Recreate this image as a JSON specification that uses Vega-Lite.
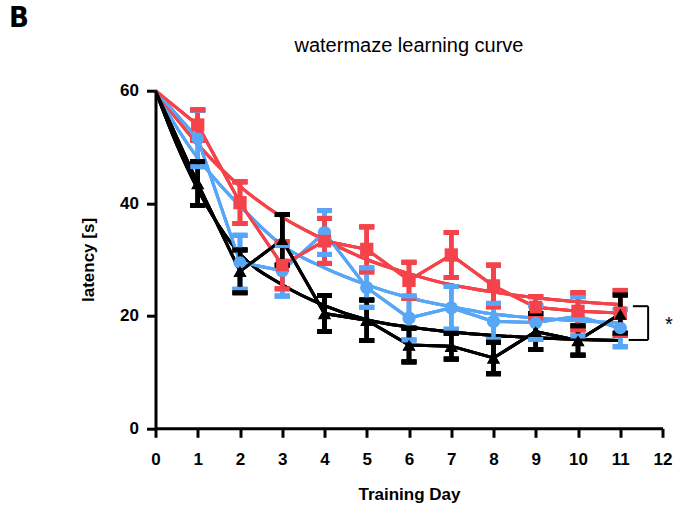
{
  "$schema": "https://vega.github.io/schema/vega-lite/v6.json",
  "width": 507,
  "height": 337.6,
  "autosize": {"type": "none"},
  "padding": {"left": 155.5, "top": 90.7, "right": 12.5, "bottom": 81.7},
  "background": "white",
  "config": {
    "view": {"stroke": null},
    "axis": {"grid": false, "domainColor": "black", "domainWidth": 3, "tickColor": "black", "tickWidth": 3, "tickSize": 9, "labelFont": "Liberation Sans", "labelFontWeight": "bold", "labelFontSize": 17, "labelColor": "black", "titleFont": "Liberation Sans", "titleFontWeight": "bold", "titleFontSize": 17, "titleColor": "black"},
    "axisX": {"labelPadding": 14, "titlePadding": 19},
    "axisY": {"labelPadding": 8, "titlePadding": 22}
  },
  "datasets": {
    "means": [
      {"group": "group 1", "day": 0, "mean": 60, "lo": null, "hi": null},
      {"group": "group 1", "day": 1, "mean": 51.5, "lo": 46.5, "hi": 56.5},
      {"group": "group 1", "day": 2, "mean": 29.5, "lo": 24.7, "hi": 34.3},
      {"group": "group 1", "day": 3, "mean": 28, "lo": 23.5, "hi": 32.5},
      {"group": "group 1", "day": 4, "mean": 34.8, "lo": 30.9, "hi": 38.7},
      {"group": "group 1", "day": 5, "mean": 25, "lo": 21.5, "hi": 28.5},
      {"group": "group 1", "day": 6, "mean": 19.6, "lo": 15.7, "hi": 23.5},
      {"group": "group 1", "day": 7, "mean": 21.4, "lo": 17.6, "hi": 25.2},
      {"group": "group 1", "day": 8, "mean": 19, "lo": 15.8, "hi": 22.2},
      {"group": "group 1", "day": 9, "mean": 18.8, "lo": 15.8, "hi": 21.8},
      {"group": "group 1", "day": 10, "mean": 19.9, "lo": 16.4, "hi": 23.4},
      {"group": "group 1", "day": 11, "mean": 17.8, "lo": 14.5, "hi": 21.1},
      {"group": "group 2", "day": 0, "mean": 60, "lo": null, "hi": null},
      {"group": "group 2", "day": 1, "mean": 53.9, "lo": 51.2, "hi": 56.6},
      {"group": "group 2", "day": 2, "mean": 40.1, "lo": 36.4, "hi": 43.8},
      {"group": "group 2", "day": 3, "mean": 29, "lo": 24.8, "hi": 33.2},
      {"group": "group 2", "day": 4, "mean": 33.3, "lo": 29.3, "hi": 37.3},
      {"group": "group 2", "day": 5, "mean": 31.8, "lo": 27.8, "hi": 35.8},
      {"group": "group 2", "day": 6, "mean": 26.3, "lo": 23.1, "hi": 29.5},
      {"group": "group 2", "day": 7, "mean": 30.8, "lo": 26.8, "hi": 34.8},
      {"group": "group 2", "day": 8, "mean": 25.3, "lo": 21.6, "hi": 29},
      {"group": "group 2", "day": 9, "mean": 21.5, "lo": 19.6, "hi": 23.4},
      {"group": "group 2", "day": 10, "mean": 20.8, "lo": 17.5, "hi": 24.1},
      {"group": "group 2", "day": 11, "mean": 20.5, "lo": 16.5, "hi": 24.5},
      {"group": "group 3", "day": 0, "mean": 60, "lo": null, "hi": null},
      {"group": "group 3", "day": 1, "mean": 43.5, "lo": 39.6, "hi": 47.4},
      {"group": "group 3", "day": 2, "mean": 27.9, "lo": 24.1, "hi": 31.7},
      {"group": "group 3", "day": 3, "mean": 33.5, "lo": 29, "hi": 38},
      {"group": "group 3", "day": 4, "mean": 20.4, "lo": 17.2, "hi": 23.6},
      {"group": "group 3", "day": 5, "mean": 19.2, "lo": 15.6, "hi": 22.8},
      {"group": "group 3", "day": 6, "mean": 14.8, "lo": 11.8, "hi": 17.8},
      {"group": "group 3", "day": 7, "mean": 14.6, "lo": 12.3, "hi": 16.9},
      {"group": "group 3", "day": 8, "mean": 12.5, "lo": 9.7, "hi": 15.3},
      {"group": "group 3", "day": 9, "mean": 17.2, "lo": 14, "hi": 20.4},
      {"group": "group 3", "day": 10, "mean": 15.6, "lo": 13, "hi": 18.2},
      {"group": "group 3", "day": 11, "mean": 20.3, "lo": 16.9, "hi": 23.7}
    ],
    "fits": [
      {"group": "group 1", "day": 0, "fit": 60},
      {"group": "group 1", "day": 0.5, "fit": 53.5},
      {"group": "group 1", "day": 1, "fit": 48},
      {"group": "group 1", "day": 1.5, "fit": 43.5},
      {"group": "group 1", "day": 2, "fit": 39.5},
      {"group": "group 1", "day": 3, "fit": 32.5},
      {"group": "group 1", "day": 4, "fit": 28.5},
      {"group": "group 1", "day": 5, "fit": 25.5},
      {"group": "group 1", "day": 6, "fit": 23.2},
      {"group": "group 1", "day": 7, "fit": 21.6},
      {"group": "group 1", "day": 8, "fit": 20.3},
      {"group": "group 1", "day": 9, "fit": 19.6},
      {"group": "group 1", "day": 10, "fit": 19.1},
      {"group": "group 1", "day": 11, "fit": 18.7},
      {"group": "group 2", "day": 0, "fit": 60},
      {"group": "group 2", "day": 0.5, "fit": 55},
      {"group": "group 2", "day": 1, "fit": 50.5},
      {"group": "group 2", "day": 1.5, "fit": 46.5},
      {"group": "group 2", "day": 2, "fit": 43},
      {"group": "group 2", "day": 3, "fit": 37.5},
      {"group": "group 2", "day": 4, "fit": 33.5},
      {"group": "group 2", "day": 5, "fit": 30},
      {"group": "group 2", "day": 6, "fit": 27.5},
      {"group": "group 2", "day": 7, "fit": 25.5},
      {"group": "group 2", "day": 8, "fit": 24.2},
      {"group": "group 2", "day": 9, "fit": 23.2},
      {"group": "group 2", "day": 10, "fit": 22.5},
      {"group": "group 2", "day": 11, "fit": 22},
      {"group": "group 3", "day": 0, "fit": 60},
      {"group": "group 3", "day": 0.5, "fit": 50.5},
      {"group": "group 3", "day": 1, "fit": 42.5},
      {"group": "group 3", "day": 1.5, "fit": 36},
      {"group": "group 3", "day": 2, "fit": 31},
      {"group": "group 3", "day": 3, "fit": 25.5},
      {"group": "group 3", "day": 4, "fit": 21.8},
      {"group": "group 3", "day": 5, "fit": 19.3},
      {"group": "group 3", "day": 6, "fit": 18},
      {"group": "group 3", "day": 7, "fit": 17.1},
      {"group": "group 3", "day": 8, "fit": 16.5},
      {"group": "group 3", "day": 9, "fit": 16.1},
      {"group": "group 3", "day": 10, "fit": 15.8},
      {"group": "group 3", "day": 11, "fit": 15.6}
    ],
    "bracket": [
      {"x1": 11.3, "x2": 11.66, "y1": 21.7, "y2": 21.7},
      {"x1": 11.66, "x2": 11.66, "y1": 21.7, "y2": 15.7},
      {"x1": 11.2, "x2": 11.66, "y1": 15.7, "y2": 15.7}
    ],
    "notes": [
      {"note": "*"},
      {"note": "B"},
      {"note": "watermaze learning curve"}
    ]
  },
  "layer": [
    {
      "transform": [{"filter": "datum.group === 'group 1'"}],
      "encoding": {
        "x": {"field": "day", "type": "quantitative", "title": "Training Day", "scale": {"domain": [0, 12], "nice": false, "zero": false}, "axis": {"values": [0, 1, 2, 3, 4, 5, 6, 7, 8, 9, 10, 11, 12], "format": "d", "labelOverlap": false, "labelFlush": false}},
        "color": {"field": "group", "type": "nominal", "scale": {"domain": ["group 1", "group 2", "group 3"], "range": ["#58A6F6", "#F4434A", "#000000"]}, "legend": null}
      },
      "layer": [
        {"data": {"name": "fits"}, "mark": {"type": "line", "strokeWidth": 3, "interpolate": "monotone"}, "encoding": {"y": {"field": "fit", "type": "quantitative", "title": "latency [s]", "scale": {"domain": [0, 60], "nice": false}, "axis": {"values": [0, 20, 40, 60]}}}},
        {"data": {"name": "means"}, "mark": {"type": "line", "strokeWidth": 3}, "encoding": {"y": {"field": "mean", "type": "quantitative", "title": "latency [s]"}}},
        {"data": {"name": "means"}, "transform": [{"filter": "datum.lo != null"}], "mark": {"type": "rule", "strokeWidth": 4.5}, "encoding": {"y": {"field": "lo", "type": "quantitative", "title": "latency [s]"}, "y2": {"field": "hi"}}},
        {"data": {"name": "means"}, "transform": [{"filter": "datum.lo != null"}], "mark": {"type": "tick", "orient": "horizontal", "size": 15, "thickness": 5, "opacity": 1}, "encoding": {"y": {"field": "lo", "type": "quantitative", "title": "latency [s]"}}},
        {"data": {"name": "means"}, "transform": [{"filter": "datum.lo != null"}], "mark": {"type": "tick", "orient": "horizontal", "size": 15, "thickness": 5, "opacity": 1}, "encoding": {"y": {"field": "hi", "type": "quantitative", "title": "latency [s]"}}},
        {"data": {"name": "means"}, "transform": [{"filter": "datum.day > 0"}], "mark": {"type": "point", "filled": true, "opacity": 1, "size": 135, "strokeWidth": 0}, "encoding": {"y": {"field": "mean", "type": "quantitative", "title": "latency [s]"}, "shape": {"field": "group", "type": "nominal", "scale": {"domain": ["group 1", "group 2", "group 3"], "range": ["circle", "square", "triangle-up"]}, "legend": null}}}
      ]
    },
    {
      "transform": [{"filter": "datum.group === 'group 2'"}],
      "encoding": {
        "x": {"field": "day", "type": "quantitative", "title": "Training Day"},
        "color": {"field": "group", "type": "nominal", "legend": null}
      },
      "layer": [
        {"data": {"name": "fits"}, "mark": {"type": "line", "strokeWidth": 3, "interpolate": "monotone"}, "encoding": {"y": {"field": "fit", "type": "quantitative", "title": "latency [s]"}}},
        {"data": {"name": "means"}, "mark": {"type": "line", "strokeWidth": 3}, "encoding": {"y": {"field": "mean", "type": "quantitative", "title": "latency [s]"}}},
        {"data": {"name": "means"}, "transform": [{"filter": "datum.lo != null"}], "mark": {"type": "rule", "strokeWidth": 4.5}, "encoding": {"y": {"field": "lo", "type": "quantitative", "title": "latency [s]"}, "y2": {"field": "hi"}}},
        {"data": {"name": "means"}, "transform": [{"filter": "datum.lo != null"}], "mark": {"type": "tick", "orient": "horizontal", "size": 15, "thickness": 5, "opacity": 1}, "encoding": {"y": {"field": "lo", "type": "quantitative", "title": "latency [s]"}}},
        {"data": {"name": "means"}, "transform": [{"filter": "datum.lo != null"}], "mark": {"type": "tick", "orient": "horizontal", "size": 15, "thickness": 5, "opacity": 1}, "encoding": {"y": {"field": "hi", "type": "quantitative", "title": "latency [s]"}}},
        {"data": {"name": "means"}, "transform": [{"filter": "datum.day > 0"}], "mark": {"type": "point", "filled": true, "opacity": 1, "size": 175, "strokeWidth": 0}, "encoding": {"y": {"field": "mean", "type": "quantitative", "title": "latency [s]"}, "shape": {"field": "group", "type": "nominal", "legend": null}}}
      ]
    },
    {
      "transform": [{"filter": "datum.group === 'group 3'"}],
      "encoding": {
        "x": {"field": "day", "type": "quantitative", "title": "Training Day"},
        "color": {"field": "group", "type": "nominal", "legend": null}
      },
      "layer": [
        {"data": {"name": "fits"}, "mark": {"type": "line", "strokeWidth": 3, "interpolate": "monotone"}, "encoding": {"y": {"field": "fit", "type": "quantitative", "title": "latency [s]"}}},
        {"data": {"name": "means"}, "mark": {"type": "line", "strokeWidth": 3}, "encoding": {"y": {"field": "mean", "type": "quantitative", "title": "latency [s]"}}},
        {"data": {"name": "means"}, "transform": [{"filter": "datum.lo != null"}], "mark": {"type": "rule", "strokeWidth": 4.5}, "encoding": {"y": {"field": "lo", "type": "quantitative", "title": "latency [s]"}, "y2": {"field": "hi"}}},
        {"data": {"name": "means"}, "transform": [{"filter": "datum.lo != null"}], "mark": {"type": "tick", "orient": "horizontal", "size": 15, "thickness": 5, "opacity": 1}, "encoding": {"y": {"field": "lo", "type": "quantitative", "title": "latency [s]"}}},
        {"data": {"name": "means"}, "transform": [{"filter": "datum.lo != null"}], "mark": {"type": "tick", "orient": "horizontal", "size": 15, "thickness": 5, "opacity": 1}, "encoding": {"y": {"field": "hi", "type": "quantitative", "title": "latency [s]"}}},
        {"data": {"name": "means"}, "transform": [{"filter": "datum.day > 0"}], "mark": {"type": "point", "filled": true, "opacity": 1, "size": 150, "strokeWidth": 0}, "encoding": {"y": {"field": "mean", "type": "quantitative", "title": "latency [s]"}, "shape": {"field": "group", "type": "nominal", "legend": null}}}
      ]
    },
    {
      "data": {"name": "bracket"},
      "mark": {"type": "rule", "strokeWidth": 2, "color": "black"},
      "encoding": {"x": {"field": "x1", "type": "quantitative", "title": "Training Day"}, "x2": {"field": "x2"}, "y": {"field": "y1", "type": "quantitative", "title": "latency [s]"}, "y2": {"field": "y2"}}
    },
    {
      "data": {"name": "notes"},
      "transform": [{"filter": "datum.note === '*'"}],
      "mark": {"type": "text", "font": "Liberation Sans", "fontSize": 20, "align": "center", "baseline": "alphabetic", "color": "black"},
      "encoding": {"x": {"datum": 12.15}, "y": {"datum": 17.3}, "text": {"field": "note", "type": "nominal"}}
    },
    {
      "data": {"name": "notes"},
      "transform": [{"filter": "datum.note === 'B'"}],
      "mark": {"type": "text", "font": "Liberation Sans Narrow, DejaVu Sans Condensed, Liberation Sans", "fontWeight": "bold", "fontSize": 29, "align": "center", "baseline": "middle", "color": "black"},
      "encoding": {"x": {"datum": -3.23}, "y": {"datum": 72.9}, "text": {"field": "note", "type": "nominal"}}
    },
    {
      "data": {"name": "notes"},
      "transform": [{"filter": "datum.note === 'watermaze learning curve'"}],
      "mark": {"type": "text", "font": "Liberation Sans", "fontSize": 20, "align": "center", "baseline": "alphabetic", "color": "black"},
      "encoding": {"x": {"datum": 6}, "y": {"datum": 66.9}, "text": {"field": "note", "type": "nominal"}}
    }
  ]
}
